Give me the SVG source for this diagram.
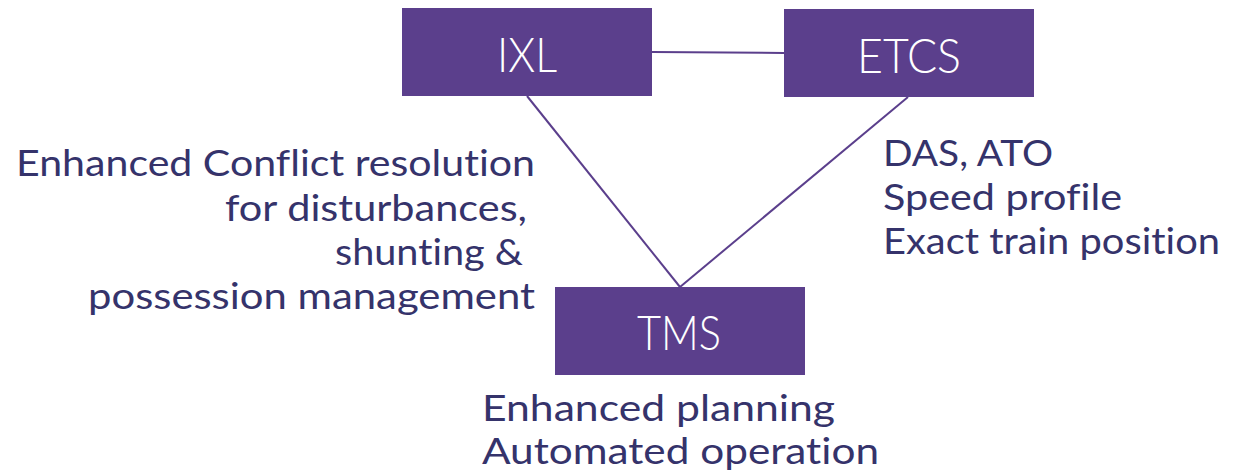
<svg xmlns="http://www.w3.org/2000/svg" width="1239" height="472" viewBox="0 0 1239 472">
<style>
.box{fill:#5b3f8c}
.lbl{font-family:"Lato","Noto Sans","DejaVu Sans",sans-serif;font-weight:300;font-size:48px;fill:#ffffff;text-anchor:middle;font-variant-ligatures:none}
.txt{font-family:"Lato","Noto Sans","DejaVu Sans",sans-serif;font-weight:400;font-size:37px;fill:#35336b;font-variant-ligatures:none}
.edge{stroke:#5b3f8c;stroke-width:2;fill:none}
</style>
<rect width="1239" height="472" fill="#ffffff"/>
<g id="connectors">
<line class="edge" x1="652" y1="52" x2="784" y2="53"/>
<line class="edge" x1="527" y1="96" x2="680" y2="287"/>
<line class="edge" x1="908" y1="97" x2="680" y2="287"/>
</g>
<g id="IXL">
<rect class="box" x="402" y="8" width="250" height="88"/>
<text class="lbl" x="527" y="72" textLength="60" lengthAdjust="spacingAndGlyphs">IXL</text>
</g>
<g id="ETCS">
<rect class="box" x="784" y="9" width="250" height="88"/>
<text class="lbl" x="909" y="73" textLength="104" lengthAdjust="spacingAndGlyphs">ETCS</text>
</g>
<g id="TMS">
<rect class="box" x="555" y="287" width="250" height="88"/>
<text class="lbl" x="679" y="350" textLength="84" lengthAdjust="spacingAndGlyphs">TMS</text>
</g>
<g id="left-text">
<text class="txt" text-anchor="end" x="535" y="176" textLength="519" lengthAdjust="spacingAndGlyphs">Enhanced Conflict resolution</text>
<text class="txt" text-anchor="end" x="527" y="221" textLength="302" lengthAdjust="spacingAndGlyphs">for disturbances,</text>
<text class="txt" text-anchor="end" x="523" y="265" textLength="188" lengthAdjust="spacingAndGlyphs">shunting &amp;</text>
<text class="txt" text-anchor="end" x="535" y="309" textLength="447" lengthAdjust="spacingAndGlyphs">possession management</text>
</g>
<g id="right-text">
<text class="txt" x="883" y="166" textLength="170" lengthAdjust="spacingAndGlyphs">DAS, ATO</text>
<text class="txt" x="883" y="210" textLength="239" lengthAdjust="spacingAndGlyphs">Speed profile</text>
<text class="txt" x="883" y="254" textLength="337" lengthAdjust="spacingAndGlyphs">Exact train position</text>
</g>
<g id="bottom-text">
<text class="txt" x="482" y="421" textLength="353" lengthAdjust="spacingAndGlyphs">Enhanced planning</text>
<text class="txt" x="482" y="464" textLength="397" lengthAdjust="spacingAndGlyphs">Automated operation</text>
</g>
</svg>
